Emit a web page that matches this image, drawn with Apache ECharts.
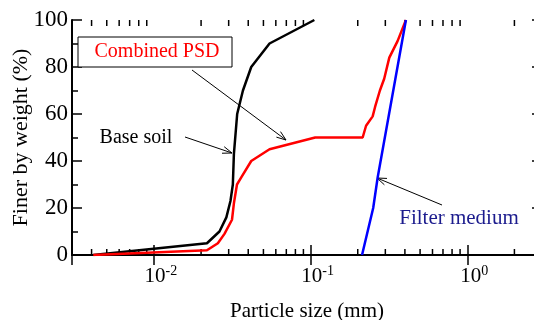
<!DOCTYPE html>
<html>
<head>
<meta charset="utf-8">
<script src="https://cdn.jsdelivr.net/npm/echarts@6/dist/echarts.min.js"></script>
<style>
  html, body { margin: 0; padding: 0; background: #fff; }
  #chart { width: 534px; height: 320px; }
</style>
</head>
<body>
<div id="chart"></div>
<script>
// grain size curves, [size in mm, % finer]
const baseSoil = [
  [0.0041, 0], [0.0218, 5], [0.0262, 10], [0.029, 16], [0.0308, 23], [0.0319, 30],
  [0.0324, 43], [0.034, 60], [0.037, 70], [0.0418, 80], [0.0547, 90], [0.1057, 100]
];
const combinedPsd = [
  [0.0041, 0], [0.0218, 2], [0.0256, 5], [0.0282, 9], [0.0315, 15], [0.0324, 22],
  [0.0339, 30], [0.0361, 33], [0.0418, 40], [0.0547, 45], [0.107, 50], [0.215, 50],
  [0.226, 55], [0.249, 59], [0.258, 63], [0.277, 70], [0.295, 75], [0.318, 84],
  [0.359, 91], [0.406, 100]
];
const filterMedium = [[0.213, 0], [0.251, 20], [0.268, 33], [0.406, 100]];

const xMin = 0.003;
const xMax = 3;
// minor log ticks (2..9 x 10^k)
const minorTicks = [0.004, 0.005, 0.006, 0.007, 0.008, 0.009,
  0.02, 0.03, 0.04, 0.05, 0.06, 0.07, 0.08, 0.09,
  0.2, 0.3, 0.4, 0.5, 0.6, 0.7, 0.8, 0.9, 2];

const font = 'Liberation Serif';
const chart = echarts.init(document.getElementById('chart'));

const logLabel = v => {
  const e = Math.round(Math.log10(v));
  if (Math.abs(v - Math.pow(10, e)) / v > 1e-6) return '';
  return '{b|10}{s|' + e + '}';
};

const arrow = (x1, y1, x2, y2) => {
  const a = Math.atan2(y2 - y1, x2 - x1);
  const L = 10, w = 0.35;
  return [
    { type: 'line', shape: { x1, y1, x2, y2 }, style: { stroke: '#000', lineWidth: 1 } },
    {
      type: 'polyline',
      shape: { points: [
        [x2 - L * Math.cos(a - w), y2 - L * Math.sin(a - w)],
        [x2, y2],
        [x2 - L * Math.cos(a + w), y2 - L * Math.sin(a + w)]
      ] },
      style: { stroke: '#000', lineWidth: 1, fill: null }
    }
  ];
};

const option = {
  animation: false,
  textStyle: { fontFamily: font },
  grid: { left: 72, right: -8, top: 20, bottom: 65, outerBoundsMode: 'none', containLabel: false },
  xAxis: [
    {
      type: 'log',
      min: xMin,
      max: xMax,
      name: 'Particle size (mm)',
      nameLocation: 'middle',
      nameGap: 46,
      nameMoveOverlap: false,
      nameTextStyle: { fontSize: 21, color: '#000', fontFamily: font },
      axisLine: { lineStyle: { color: '#000', width: 2 } },
      axisTick: { inside: true, length: 10, lineStyle: { color: '#000', width: 1.5 } },
      axisLabel: {
        margin: 9,
        color: '#000',
        formatter: logLabel,
        rich: {
          b: { fontSize: 21, fontFamily: font, color: '#000', padding: [0, 0, 0, 14] },
          s: { fontSize: 14, fontFamily: font, color: '#000', verticalAlign: 'bottom', padding: [0, 0, 11, 0] }
        }
      },
      splitLine: { show: false }
    },
    {
      type: 'log',
      position: 'top',
      min: xMin,
      max: xMax,
      axisLine: { lineStyle: { color: '#000', width: 2 } },
      axisTick: { inside: true, length: 10, lineStyle: { color: '#000', width: 1.5 } },
      axisLabel: { show: false },
      splitLine: { show: false }
    }
  ],
  yAxis: [
    {
      type: 'value',
      min: 0,
      max: 100,
      interval: 20,
      name: 'Finer by weight (%)',
      nameLocation: 'middle',
      nameGap: 40,
      nameMoveOverlap: false,
      nameTextStyle: { fontSize: 22, color: '#000', fontFamily: font },
      axisLine: { show: true, lineStyle: { color: '#000', width: 2 } },
      axisTick: { show: true, inside: true, length: 10, lineStyle: { color: '#000', width: 1.5 } },
      minorTick: { show: true, splitNumber: 2, length: 6, lineStyle: { color: '#000', width: 1.5 } },
      axisLabel: { fontSize: 23, color: '#000', margin: 4, fontFamily: font },
      splitLine: { show: false }
    },
    {
      type: 'value',
      position: 'right',
      min: 0,
      max: 100,
      interval: 20,
      axisLine: { show: true, lineStyle: { color: '#000', width: 2 } },
      axisTick: { show: true, inside: true, length: 10, lineStyle: { color: '#000', width: 1.5 } },
      minorTick: { show: true, splitNumber: 2, length: 6, lineStyle: { color: '#000', width: 1.5 } },
      axisLabel: { show: false },
      splitLine: { show: false }
    }
  ],
  series: [
    {
      name: 'minor ticks',
      type: 'custom',
      silent: true,
      data: minorTicks.map(v => [v, 0]),
      renderItem: (params, api) => {
        const b = api.coord([api.value(0), 0]);
        const t = api.coord([api.value(0), 100]);
        return {
          type: 'group',
          children: [
            { type: 'line', shape: { x1: b[0], y1: b[1], x2: b[0], y2: b[1] - 6 }, style: { stroke: '#000', lineWidth: 1.5 } },
            { type: 'line', shape: { x1: t[0], y1: t[1], x2: t[0], y2: t[1] + 6 }, style: { stroke: '#000', lineWidth: 1.5 } }
          ]
        };
      }
    },
    {
      name: 'Base soil',
      type: 'line',
      data: baseSoil,
      symbol: 'none',
      lineStyle: { color: '#000', width: 2.5 }
    },
    {
      name: 'Combined PSD',
      type: 'line',
      data: combinedPsd,
      symbol: 'none',
      lineStyle: { color: '#ff0000', width: 2.5 }
    },
    {
      name: 'Filter medium',
      type: 'line',
      data: filterMedium,
      symbol: 'none',
      lineStyle: { color: '#0000ff', width: 2.5 }
    }
  ],
  graphic: [
    { type: 'rect', shape: { x: 78, y: 37, width: 154, height: 30 }, style: { fill: '#fff', stroke: '#000', lineWidth: 1 }, z: 10 },
    { type: 'text', x: 157, y: 52, z: 11, style: { text: 'Combined PSD', fill: '#ff0000', font: '20px "Liberation Serif"', align: 'center', verticalAlign: 'middle' } },
    { type: 'text', x: 136, y: 138, z: 11, style: { text: 'Base soil', fill: '#000', font: '20px "Liberation Serif"', align: 'center', verticalAlign: 'middle' } },
    { type: 'text', x: 459, y: 218, z: 11, style: { text: 'Filter medium', fill: '#1c1c8e', font: '21px "Liberation Serif"', align: 'center', verticalAlign: 'middle' } },
    ...arrow(192, 70, 286, 140),
    ...arrow(185, 137, 232, 153),
    ...arrow(442, 205, 377, 178)
  ]
};
chart.setOption(option);
</script>
</body>
</html>
